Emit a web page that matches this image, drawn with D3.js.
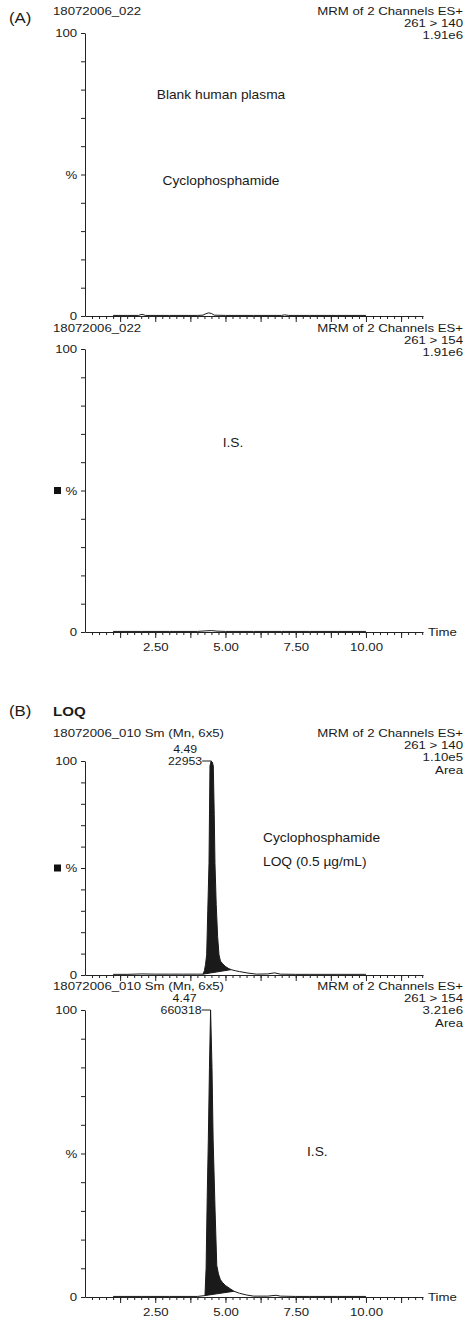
<!DOCTYPE html>
<html>
<head>
<meta charset="utf-8">
<script src="https://cdn.jsdelivr.net/npm/d3@7"></script>
<style>
  body { margin: 0; background: #fff; }
  text { font-family: "Liberation Sans", Arial, sans-serif; fill: #1a1a1a; }
</style>
</head>
<body>
<script>
// ---- data (time in min, intensity in %) ----
const blankAnalyte = [[1.0,0.2],[1.5,0.2],[1.9,0.2],[2.03,0.6],[2.15,0.2],[3.0,0.2],[4.0,0.2],[4.2,0.3],
  [4.3,0.8],[4.4,1.1],[4.5,0.9],[4.6,0.3],[5.0,0.2],[6.0,0.2],[7.0,0.2],[7.1,0.4],[7.25,0.2],[8.0,0.2],[9.0,0.2],[10.0,0.2]];
const blankIS = [[1.0,0.2],[2.0,0.2],[3.0,0.2],[4.0,0.2],[4.3,0.4],[4.5,0.5],[4.7,0.3],[5.0,0.2],[6.0,0.2],
  [7.0,0.2],[8.0,0.2],[9.0,0.2],[10.0,0.2]];
const loqAnalyte = [[1.0,0.3],[1.5,0.3],[2.0,0.5],[2.5,0.4],[3.0,0.4],[3.5,0.4],[4.0,0.4],[4.2,0.4],[4.25,2],
  [4.29,5],[4.331,9.5],[4.37,30],[4.413,52],[4.448,97.7],[4.49,100],[4.53,99.5],[4.566,97.7],[4.6,75],[4.626,52],
  [4.67,33],[4.72,18],[4.769,9.5],[4.82,6.5],[4.9,5.2],[5.0,4.0],[5.1,3.1],[5.2,2.5],[5.35,2.0],[5.5,1.6],
  [5.8,0.9],[6.1,0.4],[6.5,0.5],[6.75,1.0],[6.95,0.4],[7.5,0.3],[8.0,0.3],[9.0,0.3],[10.0,0.3]];
const loqIS = [[1.0,0.2],[2.0,0.2],[3.0,0.2],[4.0,0.2],[4.27,0.5],[4.31,10],[4.35,35],[4.39,55],[4.43,80],
  [4.47,100],[4.52,80],[4.56,55],[4.63,30],[4.69,11],[4.75,8],[4.82,6],[4.9,5],[5.0,4],[5.15,3],[5.3,2],
  [5.5,1.3],[5.75,0.7],[6.0,0.3],[6.5,0.3],[6.8,0.6],[6.95,0.3],[7.5,0.2],[8.0,0.2],[9.0,0.2],[10.0,0.2]];

const timeLabels = [2.5, 5, 7.5, 10];
const runBlank = "18072006_022";
const runLoq = "18072006_010 Sm (Mn, 6x5)";
const channel = "MRM of 2 Channels ES+";
const transitions = ["261 > 140", "261 > 154"];
const fullScales = ["1.91e6", "1.91e6", "1.10e5", "3.21e6"];
const peakTimes = ["4.49", "4.47"];
const peakAreas = ["22953", "660318"];

// ---- layout ----
const W = 465, H = 1323, SX = 1.12, FONT = 11.8;
const svg = d3.select("body").append("svg").attr("width", W).attr("height", H);
const x = d3.scaleLinear().domain([0, 12.03]).range([85, 423]);

function label(g, px, py, s, anchor = "start", size = FONT, weight = "normal") {
  return g.append("text")
    .attr("transform", `translate(${px},${py}) scale(${SX},1)`)
    .attr("text-anchor", anchor)
    .attr("font-size", size)
    .attr("font-weight", weight)
    .text(s);
}

const panels = [
  { top: 33, bottom: 316, head: 14.5, run: runBlank, right: [channel, transitions[0], fullScales[0]],
    trace: blankAnalyte, times: false, marker: false,
    notes: [["Blank human plasma", 221, 99, "middle"], ["Cyclophosphamide", 221, 185, "middle"]] },
  { top: 349, bottom: 632, head: 331.5, run: runBlank, right: [channel, transitions[1], fullScales[1]],
    trace: blankIS, times: true, marker: true,
    notes: [["I.S.", 233, 447, "middle"]] },
  { top: 761, bottom: 975, head: 737, run: runLoq, right: [channel, transitions[0], fullScales[2], "Area"],
    trace: loqAnalyte, times: false, marker: true, peak: 0, apex: 4.49, integ: [4.2, 5.2],
    notes: [["Cyclophosphamide", 263, 841.5, "start"], ["LOQ (0.5 \u00b5g/mL)", 263, 865.5, "start"]] },
  { top: 1010, bottom: 1297, head: 990, run: runLoq, right: [channel, transitions[1], fullScales[3], "Area"],
    trace: loqIS, times: true, marker: false, peak: 1, apex: 4.47, integ: [4.27, 5.3],
    notes: [["I.S.", 307, 1156, "start"]] }
];

label(svg, 9, 23, "(A)", "start", 15);
label(svg, 9, 716, "(B)", "start", 15);
label(svg, 53, 716, "LOQ", "start", 13.5, "bold");

panels.forEach(p => {
  const g = svg.append("g");
  const y = d3.scaleLinear().domain([0, 100]).range([p.bottom, p.top]);

  // headers
  label(g, 53, p.head, p.run);
  p.right.forEach((s, i) => label(g, 463, p.head + i * 12.2, s, "end"));

  // y axis
  const ya = g.append("g").attr("transform", `translate(${x(0)},0)`)
    .call(d3.axisLeft(y).tickValues(d3.range(0, 101, 10)).tickSize(4).tickSizeOuter(0).tickPadding(3)
      .tickFormat(d => d === 0 || d === 100 ? d : d === 50 ? "%" : ""));
  ya.selectAll("text").attr("font-size", FONT).attr("transform", `scale(${SX},1)`).attr("fill", "#1a1a1a");

  // x axis: minor, medium, labels
  g.append("g").attr("transform", `translate(0,${p.bottom})`)
    .call(d3.axisBottom(x).tickValues(d3.range(0.25, 12.01, 0.25)).tickSize(3).tickSizeOuter(0).tickFormat(""));
  const xm = g.append("g").attr("transform", `translate(0,${p.bottom})`)
    .call(d3.axisBottom(x).tickValues(d3.range(1.25, 12, 1.25)).tickSize(6).tickSizeOuter(0).tickPadding(5)
      .tickFormat(d => p.times && timeLabels.includes(+d.toFixed(2)) ? d3.format(".2f")(d) : ""));
  xm.select(".domain").remove();
  xm.selectAll("text").attr("font-size", FONT).attr("transform", `scale(${SX},1)`).attr("fill", "#1a1a1a");
  g.selectAll("path.domain, .tick line").attr("stroke", "#222");
  if (p.times) label(g, 428, p.bottom + 4, "Time");

  if (p.marker) g.append("rect").attr("x", 54).attr("y", y(50) - 3.5).attr("width", 7).attr("height", 7).attr("fill", "#111");

  // integrated peak fill
  if (p.integ) {
    const [a, b] = p.integ;
    const va = p.trace.find(d => d[0] === a)[1], vb = p.trace.find(d => d[0] === b)[1];
    const base = t => va + (vb - va) * (t - a) / (b - a);
    const seg = p.trace.filter(d => d[0] >= a && d[0] <= b);
    g.append("path").datum(seg)
      .attr("d", d3.area().x(d => x(d[0])).y0(d => y(base(d[0]))).y1(d => y(d[1])))
      .attr("fill", "#1a1a1a");
    g.append("path").datum([[a, va], [b, vb]])
      .attr("d", d3.line().x(d => x(d[0])).y(d => y(d[1])))
      .attr("stroke", "#1a1a1a").attr("fill", "none");
    // peak labels
    const ax = x(p.apex), ay = y(100);
    g.append("line").attr("x1", ax - 9).attr("x2", ax).attr("y1", ay).attr("y2", ay).attr("stroke", "#1a1a1a");
    label(g, ax - 26, ay - 8, peakTimes[p.peak], "middle", 11);
    label(g, ax - 9, ay + 4, peakAreas[p.peak], "end", 11);
  }

  // trace
  g.append("path").datum(p.trace)
    .attr("d", d3.line().x(d => x(d[0])).y(d => y(d[1])))
    .attr("fill", "none").attr("stroke", "#1a1a1a").attr("stroke-width", 1);

  p.notes.forEach(n => label(g, n[1], n[2], n[0], n[3], 12.3));
});
</script>
</body>
</html>
